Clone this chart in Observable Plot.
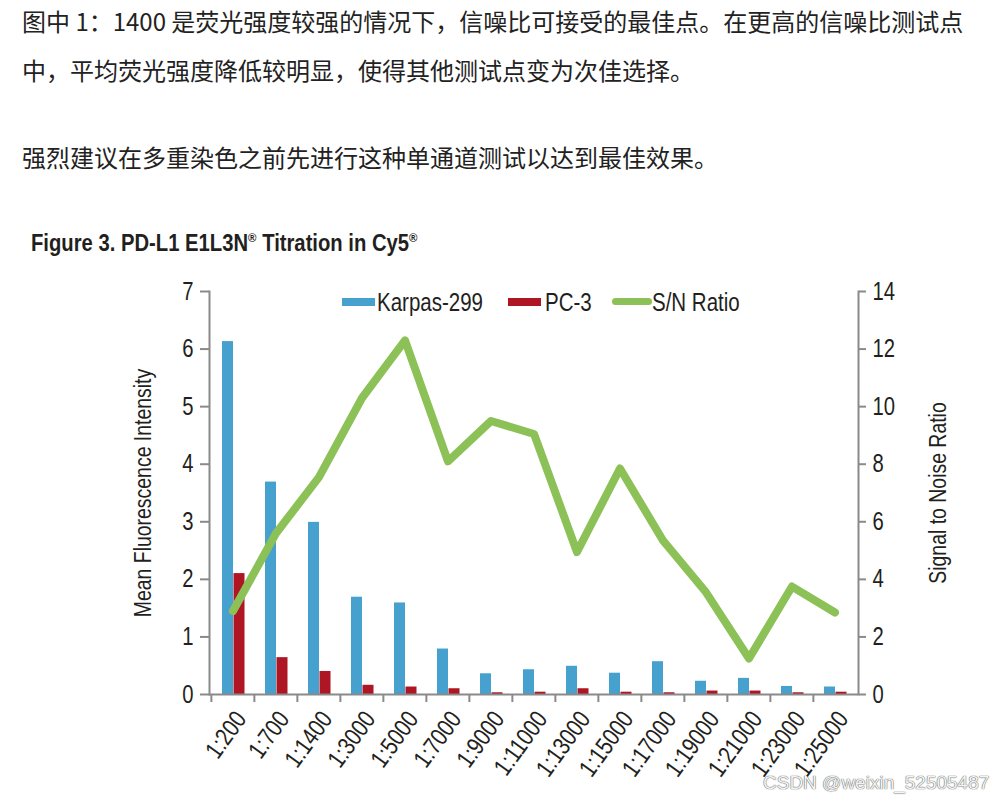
<!DOCTYPE html>
<html>
<head>
<meta charset="utf-8">
<script src="https://cdn.jsdelivr.net/npm/d3@7"></script>
<script src="https://cdn.jsdelivr.net/npm/@observablehq/plot@0.6"></script>
<style>
  html, body { margin: 0; padding: 0; background: #fff; }
  #page { position: relative; width: 1008px; height: 802px; overflow: hidden; background: #fff; }
  .zh { position: absolute; left: 22px; font-family: "Noto Sans CJK SC", sans-serif; font-size: 24px; line-height: 24px; color: #222; white-space: nowrap; }
  .narrow { font-family: "Liberation Sans Narrow", "Arial Narrow", "Liberation Sans", sans-serif; color: #231f20; }
  #title { position: absolute; left: 31px; top: 232px; font-size: 23px; line-height: 23px; font-weight: bold; white-space: nowrap; transform: scaleX(0.88); transform-origin: 0 50%; }
  #title .reg { font-size: 13px; position: relative; top: -9px; }
  .leg { position: absolute; font-size: 25px; line-height: 25px; top: 290px; white-space: nowrap; transform: scaleX(0.82); transform-origin: 0 50%; }
  .sw { position: absolute; }
  #chart { position: absolute; left: 0; top: 270px; }
  #wm { position: absolute; left: 763px; top: 772px; font-family: "Liberation Sans", sans-serif; font-size: 19px; color: #f4f4f4; text-shadow: 0 0 1px #555, 0 0 1px #555; white-space: nowrap; }
</style>
</head>
<body>
<div id="page">
  <div class="zh" style="top:9px">图中 1：1400 是荧光强度较强的情况下，信噪比可接受的最佳点。在更高的信噪比测试点</div>
  <div class="zh" style="top:58px">中，平均荧光强度降低较明显，使得其他测试点变为次佳选择。</div>
  <div class="zh" style="top:145px">强烈建议在多重染色之前先进行这种单通道测试以达到最佳效果。</div>
  <div id="title" class="narrow">Figure 3. PD-L1 E1L3N<span class="reg">®</span> Titration in Cy5<span class="reg">®</span></div>
  <div id="chart"></div>
  <div id="legend"></div>
  <div id="wm">CSDN @weixin_52505487</div>
</div>
<script>
// ---- data ----
const dilutions = ["1:200","1:700","1:1400","1:3000","1:5000","1:7000","1:9000","1:11000","1:13000","1:15000","1:17000","1:19000","1:21000","1:23000","1:25000"];
const karpas299 = [6.13, 3.69, 2.99, 1.69, 1.59, 0.79, 0.36, 0.43, 0.49, 0.37, 0.57, 0.23, 0.28, 0.14, 0.13];
const pc3 = [2.10, 0.64, 0.40, 0.16, 0.13, 0.10, 0.03, 0.04, 0.10, 0.04, 0.03, 0.06, 0.06, 0.03, 0.04];
const snRatio = [2.9, 5.6, 7.55, 10.3, 12.3, 8.1, 9.5, 9.05, 4.95, 7.85, 5.35, 3.55, 1.25, 3.75, 2.85];
const leftTicks = [0, 1, 2, 3, 4, 5, 6, 7];
const rightTicks = [0, 2, 4, 6, 8, 10, 12, 14];
const seriesNames = ["Karpas-299", "PC-3", "S/N Ratio"];
const leftLabel = "Mean Fluorescence Intensity";
const rightLabel = "Signal to Noise Ratio";

const colors = {blue: "#47a1cf", red: "#ae1623", green: "#8cc157", axis: "#8a8a8a"};
const leftMax = 7, rightMax = 14;
const ratio = leftMax / rightMax;

const table = dilutions.map((d, i) => ({dil: d, karpas: karpas299[i], pc3: pc3[i], sn: snRatio[i]}));

const W = 1008, H = 532, mL = 209, mR = 150, mT = 21, mB = 108;
const bw = (W - mL - mR) / dilutions.length;

const chart = Plot.plot({
  width: W,
  height: H,
  marginLeft: mL,
  marginRight: mR,
  marginTop: mT,
  marginBottom: mB,
  style: {fontFamily: "'Liberation Sans Narrow', 'Arial Narrow', 'Liberation Sans', sans-serif", fontSize: "25px", color: "#231f20", background: "transparent"},
  x: {domain: dilutions, padding: 0, label: null},
  y: {domain: [0, leftMax], label: null},
  marks: [
    Plot.barY(table, {x: "dil", y: "karpas", fill: colors.blue, insetLeft: 11, insetRight: 21}),
    Plot.barY(table, {x: "dil", y: "pc3", fill: colors.red, insetLeft: 22.5, insetRight: 9.5}),
    Plot.line(table, {x: "dil", y: d => d.sn * ratio, stroke: colors.green, strokeWidth: 8, strokeLinejoin: "round", strokeLinecap: "round"}),
    Plot.ruleY([0], {stroke: colors.axis, strokeWidth: 2}),
    Plot.frame({anchor: "left", stroke: colors.axis, strokeWidth: 2}),
    Plot.frame({anchor: "right", stroke: colors.axis, strokeWidth: 2}),
    Plot.axisY({anchor: "left", ticks: leftTicks, tickFormat: t => String(t), tickSize: 9, tickPadding: 7, stroke: colors.axis, strokeWidth: 2, fill: "#231f20", label: null}),
    Plot.axisY({anchor: "right", ticks: rightTicks.map(t => t * ratio), tickFormat: t => String(Math.round(t / ratio)), tickSize: 7, tickPadding: 7, stroke: colors.axis, strokeWidth: 2, fill: "#231f20", label: null}),
    Plot.axisX({ticks: dilutions, tickSize: 8, fill: "none", stroke: colors.axis, strokeWidth: 2, dx: -bw / 2, label: null}),
    Plot.axisX({ticks: dilutions, tickSize: 0, tickRotate: -54, tickPadding: 20, dx: 8, fontSize: 25, fill: "#231f20", label: null}),
    Plot.text([leftLabel], {text: d => d, frameAnchor: "left", textAnchor: "middle", rotate: -90, dx: -66, fontSize: 24, fill: "#231f20"}),
    Plot.text([rightLabel], {text: d => d, frameAnchor: "right", textAnchor: "middle", rotate: -90, dx: 80, fontSize: 24, fill: "#231f20"})
  ]
});

// emulate the condensed typeface of the original: narrow every text around its own anchor
chart.querySelectorAll("text").forEach(t => {
  let tr = t.getAttribute("transform") || "";
  const x = t.getAttribute("x");
  if (x != null && isFinite(+x) && +x !== 0) {
    tr = `translate(${+x},0) ` + tr;
    t.removeAttribute("x");
  }
  t.setAttribute("transform", (tr + " scale(0.81,1)").trim());
});
document.getElementById("chart").appendChild(chart);

// legend (HTML, above the SVG)
const legend = document.getElementById("legend");
const legItems = [
  {name: seriesNames[0], color: colors.blue, kind: "bar", sx: 342, sw: 33, tx: 377},
  {name: seriesNames[1], color: colors.red, kind: "bar", sx: 508, sw: 33, tx: 545},
  {name: seriesNames[2], color: colors.green, kind: "line", sx: 612, sw: 40, tx: 652}
];
for (const it of legItems) {
  const s = document.createElement("div");
  s.className = "sw";
  s.style.left = it.sx + "px";
  s.style.width = it.sw + "px";
  s.style.background = it.color;
  if (it.kind === "bar") { s.style.top = "298px"; s.style.height = "8px"; }
  else { s.style.top = "298px"; s.style.height = "7px"; s.style.borderRadius = "4px"; }
  legend.appendChild(s);
  const t = document.createElement("div");
  t.className = "leg narrow";
  t.style.left = it.tx + "px";
  t.textContent = it.name;
  legend.appendChild(t);
}
</script>
</body>
</html>
